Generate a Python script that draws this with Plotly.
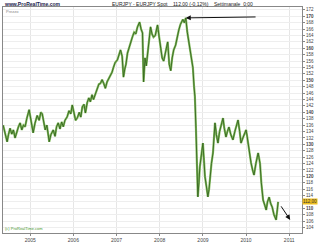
import plotly.graph_objects as go

dates = [
 "2004-05-17","2004-06-01","2004-06-20","2004-07-01","2004-07-15","2004-07-29","2004-08-12","2004-08-26",
 "2004-09-10","2004-09-24","2004-10-08","2004-10-22","2004-11-05","2004-11-19","2004-12-03","2004-12-23",
 "2005-01-10","2005-01-26","2005-02-10","2005-03-01","2005-03-18","2005-04-01","2005-04-13","2005-04-25",
 "2005-05-08","2005-05-22","2005-06-11","2005-06-25","2005-07-15","2005-07-30","2005-08-12","2005-08-26",
 "2005-09-10","2005-09-24","2005-10-08","2005-10-22","2005-11-10","2005-11-25","2005-12-10","2005-12-23",
 "2006-01-10","2006-01-20","2006-02-04","2006-02-20","2006-03-05","2006-03-18","2006-04-01","2006-04-13",
 "2006-04-28","2006-05-12","2006-05-25","2006-06-08","2006-06-20","2006-07-07","2006-07-20","2006-08-05",
 "2006-08-18","2006-09-01","2006-09-15","2006-09-29","2006-10-13","2006-10-27","2006-11-10","2006-11-24",
 "2006-12-06","2006-12-20",
 "2007-01-09","2007-01-22","2007-02-04","2007-02-18","2007-03-01","2007-03-12","2007-03-22","2007-04-04",
 "2007-04-18","2007-05-02","2007-05-16","2007-05-30","2007-06-13","2007-06-28","2007-07-15","2007-07-28",
 "2007-08-09","2007-08-18","2007-08-30","2007-09-10","2007-09-21","2007-10-03","2007-10-16","2007-10-28",
 "2007-11-10","2007-11-25","2007-12-14","2007-12-28",
 "2008-01-09","2008-01-22","2008-02-04","2008-02-20","2008-03-09","2008-03-22","2008-04-04","2008-04-16",
 "2008-04-29","2008-05-15","2008-05-28","2008-06-11","2008-06-25","2008-07-15","2008-07-28","2008-08-09",
 "2008-08-22","2008-09-04","2008-09-20","2008-10-08","2008-10-18","2008-10-25","2008-11-03","2008-11-10",
 "2008-11-19","2008-11-28","2008-12-06","2008-12-20",
 "2009-01-01","2009-01-10","2009-01-18","2009-01-30","2009-02-12","2009-02-22","2009-03-01","2009-03-14",
 "2009-03-27","2009-04-05","2009-04-13","2009-04-25","2009-05-08","2009-05-22","2009-06-05","2009-06-20",
 "2009-07-01","2009-07-15","2009-07-27","2009-08-09","2009-08-25","2009-09-12","2009-09-28","2009-10-10",
 "2009-10-25","2009-11-08","2009-11-19","2009-12-05","2009-12-18",
 "2010-01-01","2010-01-10","2010-01-18","2010-01-30","2010-02-12","2010-02-25","2010-03-09","2010-03-25",
 "2010-04-13","2010-04-22","2010-04-29","2010-05-10","2010-05-25","2010-06-08","2010-06-20","2010-07-01",
 "2010-07-15","2010-07-28","2010-08-10","2010-08-25","2010-09-12","2010-09-22","2010-09-29"]
prices = [
 136.0,133.5,130.8,133.0,135.0,133.2,134.5,132.0,
 134.0,135.5,136.7,134.5,136.0,135.5,138.0,140.8,
 137.0,133.6,136.5,139.0,137.5,140.0,139.5,137.0,
 134.5,136.0,130.8,133.0,134.5,132.5,135.5,136.7,
 134.8,137.0,135.5,137.5,138.6,140.5,139.5,142.3,
 139.0,137.5,138.3,140.0,138.5,141.7,142.5,139.8,
 143.0,144.5,143.3,145.5,144.0,146.0,147.5,148.8,
 149.0,150.2,149.0,147.5,149.5,150.5,151.7,152.5,
 154.0,155.5,
 156.4,158.0,159.5,157.5,151.0,153.5,155.0,158.5,
 160.5,162.0,163.6,165.0,164.5,166.7,168.2,166.0,
 164.8,149.5,157.0,154.5,158.0,162.0,166.7,164.5,
 163.5,164.0,167.3,163.5,
 160.4,157.0,156.0,159.0,162.0,155.0,153.0,157.0,
 159.5,161.0,163.5,165.7,167.5,169.0,168.0,169.5,
 165.0,161.7,158.0,154.0,148.0,145.0,135.0,128.0,
 113.6,118.0,123.0,127.0,
 130.4,125.0,120.0,117.0,113.6,116.0,120.0,124.0,
 127.3,132.0,136.7,133.0,130.4,134.0,136.5,138.2,
 135.0,132.3,134.0,135.4,133.0,131.4,134.0,136.0,
 137.6,134.0,130.4,132.0,133.5,
 134.5,132.5,130.4,127.0,124.2,122.0,120.4,124.0,
 127.3,125.5,124.0,118.0,112.6,111.0,109.5,112.0,
 113.5,111.5,110.4,108.0,106.4,109.5,112.0]

ytick_vals = list(range(104, 173, 2))
last_price = 112.0
ytick_text = [("<b>%d</b>" % v) if v % 10 == 0 else ("" if v == last_price else str(v)) for v in ytick_vals]
year_ticks = ["2005-01-01","2006-01-01","2007-01-01","2008-01-01","2009-01-01","2010-01-01","2011-01-01"]
year_labels = ["2005","2006","2007","2008","2009","2010","2011"]

title_text = "EURJPY - EURJPY Spot    112,00 (-0,12%)    Settimanale  0:00"

font_family = "Liberation Sans, Arial, sans-serif"

fig = go.Figure()
fig.add_trace(go.Scatter(x=dates, y=prices, mode="lines",
                         line=dict(color="#86bd62", width=2.2), hoverinfo="skip"))
fig.add_trace(go.Scatter(x=dates, y=prices, mode="lines",
                         line=dict(color="#35651f", width=0.9)))

fig.update_layout(
    width=320, height=249,
    margin=dict(l=3, r=18, t=7, b=16),
    paper_bgcolor="white", plot_bgcolor="white",
    showlegend=False,
    font=dict(family=font_family, size=5, color="#333333"),
    xaxis=dict(range=["2004-05-16", "2011-04-19"], tickvals=year_ticks, ticktext=year_labels,
               showgrid=True, gridcolor="#e6e6e6", gridwidth=1,
               showline=True, linecolor="#888888", mirror=True,
               ticks="outside", ticklen=2, tickcolor="#888888",
               tickfont=dict(size=5, color="#444444"), zeroline=False),
    yaxis=dict(range=[102.3, 172.9], side="right", tickvals=ytick_vals, ticktext=ytick_text,
               showgrid=True, gridcolor="#eeeeee", gridwidth=1,
               showline=True, linecolor="#888888", mirror=True,
               ticks="outside", ticklen=2, tickcolor="#888888",
               tickfont=dict(size=4.5, color="#444444"), zeroline=False),
)

fig.add_annotation(xref="paper", yref="paper", x=0.0, y=1.0, yshift=3.5, xanchor="left", yanchor="middle",
                   text="<b>www.ProRealTime.com</b>", showarrow=False,
                   font=dict(size=5, color="#1a1a4a"), borderpad=0)
fig.add_annotation(xref="paper", yref="paper", x=0.6, y=1.0, yshift=3.5, xanchor="center", yanchor="middle",
                   text=title_text, showarrow=False, font=dict(size=5, color="#222222"), borderpad=0)
fig.add_annotation(xref="paper", yref="paper", x=0.005, y=1.0, xanchor="left", yanchor="top",
                   text="Prezzo", showarrow=False, font=dict(size=4, color="#888888"))
fig.add_annotation(xref="paper", yref="paper", x=0.0, y=0.0, xanchor="left", yanchor="bottom",
                   text="(c) ProRealTime.com", showarrow=False, font=dict(size=4, color="#4a9a30"))
fig.add_annotation(xref="paper", yref="y", x=1.0, y=last_price, xanchor="left", yanchor="middle",
                   text="112,00", showarrow=False, bgcolor="#f0c020",
                   font=dict(size=4.5, color="#333333"), borderpad=0)

fig.add_annotation(x="2008-08-09", y=169.5, ax="2010-04-04", ay=169.8, xref="x", yref="y",
                   axref="x", ayref="y", showarrow=True, arrowhead=2, arrowsize=1,
                   arrowwidth=1, arrowcolor="#111111", text="")
fig.add_annotation(x="2011-01-09", y=106.4, ax="2010-10-16", ay=111.1, xref="x", yref="y",
                   axref="x", ayref="y", showarrow=True, arrowhead=2, arrowsize=1,
                   arrowwidth=1, arrowcolor="#111111", text="")

fig.write_html("out.html")
